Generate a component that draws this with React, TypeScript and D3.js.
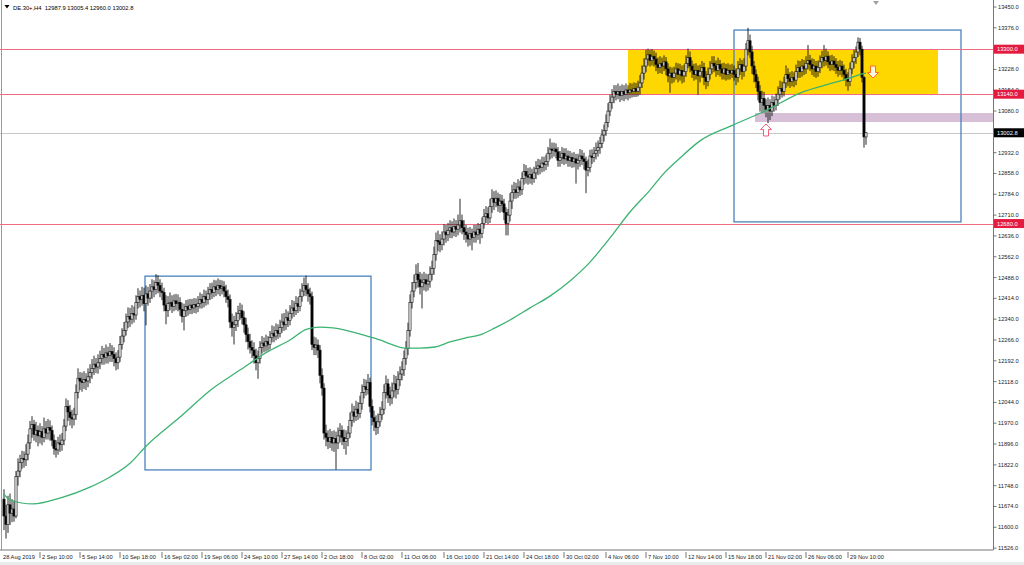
import React from 'react';
import * as d3 from 'd3';

const headerText = 'DE.30+,H4  12987.9 13005.4 12960.0 13002.8';
const firstOpen = 11700;

const closes = [
11640,11610,11680,11650,11665,11640,11780,11800,11830,11845,
11840,11860,11900,11950,11965,11930,11945,11925,11940,11920,
11950,11935,11955,11945,11910,11880,11875,11900,11895,11910,
11960,12030,12010,11990,11985,12000,12080,12130,12120,12115,
12125,12120,12135,12150,12165,12180,12170,12185,12200,12215,
12205,12220,12210,12225,12215,12200,12185,12205,12250,12280,
12300,12330,12350,12340,12360,12355,12400,12420,12410,12425,
12395,12430,12415,12440,12455,12445,12470,12460,12440,12435,
12390,12370,12395,12400,12385,12405,12395,12400,12375,12350,
12370,12385,12375,12390,12380,12392,12385,12395,12410,12400,
12420,12410,12430,12445,12435,12455,12445,12460,12450,12455,
12440,12420,12410,12330,12310,12320,12335,12360,12370,12345,
12320,12285,12260,12240,12230,12210,12185,12200,12240,12255,
12245,12260,12250,12275,12290,12280,12300,12290,12310,12330,
12320,12345,12335,12360,12380,12370,12395,12385,12420,12440,
12460,12445,12430,12420,12250,12240,12248,12230,12140,12095,
11935,11920,11905,11920,11900,11915,11900,11925,11945,11920,
11905,11915,11935,11980,12010,11995,12020,12005,12040,12080,
12100,12090,12115,12030,11990,11975,11955,11975,12000,12020,
12080,12110,12070,12060,12085,12110,12090,12125,12145,12160,
12200,12235,12300,12400,12440,12470,12500,12480,12455,12470,
12480,12465,12475,12500,12520,12570,12620,12615,12605,12625,
12650,12640,12655,12665,12650,12670,12660,12675,12690,12665,
12650,12640,12625,12645,12630,12650,12640,12660,12645,12680,
12705,12715,12700,12740,12770,12755,12770,12745,12760,12750,
12720,12680,12710,12760,12790,12800,12790,12810,12800,12840,
12865,12850,12845,12855,12840,12860,12875,12885,12880,12895,
12890,12900,12930,12945,12940,12945,12935,12905,12915,12930,
12910,12920,12905,12915,12900,12910,12895,12905,12920,12910,
12900,12870,12880,12920,12915,12930,12940,12950,12965,12995,
13010,13040,13080,13110,13130,13150,13140,13150,13135,13150,
13140,13155,13145,13155,13150,13160,13150,13165,13180,13215,
13240,13265,13280,13260,13275,13265,13245,13235,13250,13240,
13255,13230,13205,13215,13200,13215,13230,13210,13225,13205,
13220,13250,13270,13240,13225,13210,13225,13205,13220,13235,
13200,13185,13210,13230,13250,13240,13225,13245,13230,13215,
13230,13210,13225,13215,13225,13210,13200,13230,13245,13220,
13240,13300,13330,13290,13240,13210,13185,13150,13110,13125,
13100,13085,13100,13080,13110,13100,13120,13140,13160,13150,
13180,13210,13195,13185,13200,13190,13220,13235,13220,13240,
13230,13250,13260,13245,13230,13240,13220,13235,13255,13270,
13260,13275,13255,13245,13258,13245,13235,13225,13240,13225,
13210,13195,13185,13230,13255,13270,13290,13325,13300,13200,
12987.9,13002.8,
];

const highs = [
11735,11680,11712,11720,11700,11695,11800,11845,11858,11872,
11870,11895,11930,11978,11995,11982,11975,11962,11970,11960,
11990,11978,11985,11980,11962,11930,11910,11922,11930,11935,
11985,12058,12052,12035,12018,12025,12108,12165,12152,12150,
12155,12148,12165,12180,12198,12210,12202,12215,12228,12245,
12238,12250,12242,12255,12248,12240,12222,12230,12280,12308,
12330,12360,12382,12380,12390,12385,12425,12450,12442,12455,
12452,12460,12455,12465,12482,12478,12500,12496,12482,12470,
12452,12425,12422,12435,12425,12428,12430,12428,12418,12398,
12395,12408,12410,12412,12412,12415,12414,12422,12435,12430,
12445,12442,12455,12468,12470,12480,12478,12485,12480,12478,
12475,12462,12445,12428,12360,12352,12365,12388,12398,12392,
12368,12345,12310,12288,12265,12258,12235,12228,12262,12280,
12275,12285,12280,12298,12318,12315,12325,12322,12338,12360,
12362,12375,12368,12390,12408,12405,12422,12418,12448,12468,
12488,12495,12468,12452,12438,12278,12275,12268,12248,12165,
12112,11965,11945,11950,11942,11945,11940,11955,11970,11962,
11948,11945,11960,12008,12040,12032,12050,12045,12068,12108,
12128,12125,12145,12132,12055,12015,11998,12005,12028,12048,
12108,12140,12128,12100,12115,12142,12138,12155,12172,12190,
12228,12262,12328,12428,12472,12498,12535,12540,12508,12502,
12508,12502,12500,12528,12548,12598,12648,12655,12642,12652,
12678,12675,12682,12692,12688,12698,12692,12712,12768,12712,
12692,12675,12665,12668,12662,12675,12675,12682,12678,12702,
12732,12742,12738,12768,12802,12795,12798,12790,12785,12782,
12768,12738,12732,12788,12818,12828,12825,12838,12832,12862,
12892,12888,12878,12880,12875,12882,12902,12910,12908,12918,
12918,12925,12952,12982,12968,12968,12965,12952,12938,12952,
12948,12948,12940,12938,12932,12934,12928,12928,12945,12942,
12932,12918,12908,12942,12944,12952,12968,12975,12988,13015,
13032,13068,13108,13138,13158,13172,13172,13178,13170,13175,
13172,13178,13172,13180,13178,13182,13180,13188,13208,13242,
13268,13298,13302,13298,13300,13295,13288,13270,13275,13270,
13278,13272,13250,13238,13235,13238,13252,13250,13248,13242,
13245,13278,13302,13292,13260,13248,13250,13242,13245,13258,
13252,13222,13235,13258,13275,13275,13260,13270,13262,13250,
13252,13248,13250,13245,13248,13242,13232,13258,13268,13262,
13268,13322,13376,13352,13312,13258,13228,13202,13172,13152,
13148,13122,13128,13122,13135,13132,13142,13168,13188,13185,
13202,13242,13232,13218,13222,13218,13245,13260,13258,13265,
13262,13275,13315,13280,13268,13265,13258,13260,13278,13294,
13315,13302,13292,13278,13280,13275,13268,13258,13262,13258,
13245,13230,13218,13252,13282,13298,13310,13342,13340,13312,
13205,13005.4,
];

const lows = [
11590,11560,11580,11608,11618,11620,11632,11748,11778,11808,
11812,11818,11838,11878,11918,11908,11902,11888,11898,11892,
11902,11912,11912,11908,11888,11858,11848,11858,11868,11872,
11892,11942,11978,11962,11952,11962,11982,12058,12088,12082,
12092,12088,12098,12112,12128,12142,12148,12146,12162,12178,
12178,12182,12182,12188,12188,12172,12158,12162,12188,12232,
12258,12282,12308,12312,12322,12328,12338,12378,12382,12388,
12368,12318,12388,12398,12412,12418,12428,12432,12418,12408,
12368,12322,12348,12372,12362,12368,12372,12368,12352,12328,
12300,12348,12352,12358,12358,12362,12360,12365,12378,12378,
12382,12388,12392,12408,12412,12418,12422,12428,12422,12428,
12418,12398,12382,12308,12278,12250,12298,12312,12338,12322,
12292,12258,12232,12218,12202,12182,12158,12128,12182,12218,
12222,12225,12228,12232,12258,12258,12265,12270,12275,12292,
12298,12302,12312,12318,12342,12348,12355,12362,12368,12402,
12422,12422,12402,12392,12230,12212,12212,12202,12112,12068,
11912,11888,11878,11882,11872,11868,11805,11878,11902,11892,
11878,11858,11888,11918,11958,11972,11978,11982,11988,12018,
12058,12068,12072,12008,11962,11942,11928,11932,11958,11982,
12002,12058,12042,12032,12038,12062,12058,12072,12102,12122,
12138,12178,12212,12278,12378,12418,12448,12452,12428,12378,
12442,12438,12442,12452,12478,12498,12548,12582,12578,12585,
12602,12612,12618,12628,12628,12635,12632,12638,12648,12642,
12622,12612,12598,12602,12585,12612,12612,12622,12608,12628,
12662,12682,12678,12682,12718,12728,12738,12722,12718,12722,
12692,12638,12638,12688,12732,12768,12768,12772,12778,12782,
12818,12822,12818,12822,12818,12825,12838,12852,12855,12862,
12865,12870,12882,12908,12912,12918,12912,12882,12882,12892,
12888,12892,12882,12882,12878,12880,12822,12872,12882,12888,
12872,12788,12848,12862,12892,12898,12908,12918,12928,12948,
12972,12992,13022,13062,13088,13108,13118,13122,13112,13118,
13115,13122,13118,13125,13128,13130,13130,13132,13138,13162,
13192,13218,13242,13238,13242,13238,13222,13212,13215,13212,
13222,13208,13182,13145,13178,13182,13192,13182,13188,13178,
13182,13202,13232,13218,13198,13188,13192,13138,13182,13198,
13172,13158,13168,13192,13212,13218,13202,13208,13202,13192,
13192,13188,13192,13192,13198,13188,13172,13182,13208,13192,
13202,13222,13278,13268,13212,13182,13162,13118,13078,13072,
13072,13058,13037,13048,13062,13078,13082,13098,13122,13128,
13132,13162,13168,13162,13168,13165,13172,13198,13198,13202,
13208,13212,13228,13222,13208,13202,13198,13202,13215,13232,
13238,13242,13232,13222,13225,13222,13212,13202,13208,13200,
13188,13168,13152,13168,13212,13232,13248,13272,13278,13182,
12950,12960.0,
];

// Moving average: bar position -> value
const maBars = [0,3,14.5,28,43,53,63,71.5,88,104,118,131.5,143,151.5,158,164.5,181.5,188,193,200.5,208,215.5,223,230.5,238,245.5,253,263,273,283,293,303,313,323,330.5,338,348,364.5,381.5,398,414.5,423,429,431];
const maValues = [11718,11697,11683,11704,11743,11779,11828,11892,11992,12092,12159,12223,12266,12305,12312,12309,12280,12266,12252,12237,12237,12241,12259,12273,12284,12309,12337,12380,12422,12476,12543,12629,12721,12799,12863,12913,12974,13030,13084,13144,13180,13198,13212,13215];

const priceTicks = [13450,13376,13302,13228,13154,13080,13006,12932,12858,12784,12710,12636,12562,12488,12414,12340,12266,12192,12118,12044,11970,11896,11822,11748,11674,11600,11526];
const levelLines = [13300, 13140, 12680];
const currentPrice = 13002.8;

const dateLabels = ['28 Aug 2019','2 Sep 10:00','5 Sep 14:00','10 Sep 18:00','16 Sep 02:00','19 Sep 06:00','24 Sep 10:00','27 Sep 14:00','2 Oct 18:00','8 Oct 02:00','11 Oct 06:00','16 Oct 10:00','21 Oct 14:00','24 Oct 18:00','30 Oct 02:00','4 Nov 06:00','7 Nov 10:00','12 Nov 14:00','15 Nov 18:00','21 Nov 02:00','26 Nov 06:00','29 Nov 10:00'];
const dateLabelBars = [0,18,38,58,79,99,119,139,159,179,199,220,240,260,280,301,321,341,361,381,401,422];

// annotation zones in data terms [barFrom, barTo, priceLow, priceHigh]
const leftBox = [70.5, 183.5, 11804, 12493];
const rightBox = [365, 478.5, 12686, 13368];
const yellowZone = [312, 467, 13140, 13300];
const pinkZone = [375.5, 500, 13041, 13073];
const upArrow = [381, 13034];
const downArrow = [434.5, 13240];

const W = 1024, H = 565;
const plotRight = 993.5;
const plotBottom = 550;
const FONT = '"Liberation Sans", Arial, sans-serif';

export default function App() {
  const x = d3.scaleLinear().domain([0, 431]).range([4, 866]);
  const y = d3.scaleLinear().domain([11526, 13450]).range([548.1, 7]);
  const snap = (v: number) => Math.round(v) + 0.5;

  const candles = closes.map((c, i) => {
    const o = i === 0 ? firstOpen : closes[i - 1];
    const h = Math.max(highs[i], o, c);
    const l = Math.min(lows[i], o, c);
    return { i, o, h, l, c };
  });

  const maLine = d3.line<number>()
    .x((_, k) => x(maBars[k]))
    .y((v) => y(v))
    .curve(d3.curveMonotoneX)(maValues) as string;

  const rect = (z: number[], right?: number) => {
    const x0 = x(z[0]);
    const x1 = right !== undefined ? right : x(z[1]);
    return { x: x0, y: y(z[3]), width: x1 - x0, height: y(z[2]) - y(z[3]) };
  };

  const arrowUp = (cx: number, top: number) =>
    `M${cx},${top} L${cx + 5.5},${top + 5.5} L${cx + 2.5},${top + 5.5} L${cx + 2.5},${top + 12} L${cx - 2.5},${top + 12} L${cx - 2.5},${top + 5.5} L${cx - 5.5},${top + 5.5} Z`;
  const arrowDown = (cx: number, top: number) =>
    `M${cx - 2.5},${top} L${cx + 2.5},${top} L${cx + 2.5},${top + 6.5} L${cx + 5.5},${top + 6.5} L${cx},${top + 12} L${cx - 5.5},${top + 6.5} L${cx - 2.5},${top + 6.5} Z`;

  const lb = rect(leftBox);
  const rb = rect(rightBox);
  const yz = rect(yellowZone);
  const pz = rect(pinkZone, plotRight);

  return (
    <svg width={W} height={H} style={{ position: 'absolute', left: 0, top: 0, background: '#fff' }}
      fontFamily={FONT}>
      <defs>
        <clipPath id="plot"><rect x={0} y={0} width={plotRight} height={plotBottom} /></clipPath>
      </defs>
      <rect x={0} y={0} width={W} height={H} fill="#fff" />
      <rect x={0} y={562} width={W} height={3} fill="#ececec" />
      <g clipPath="url(#plot)">
        <rect {...yz} fill="#ffd700" />
        <rect {...pz} fill="#d8bfd8" />
        <line x1={0} x2={plotRight} y1={snap(y(currentPrice))} y2={snap(y(currentPrice))} stroke="#c8c8c8" strokeWidth={1} />
        <rect {...lb} fill="none" stroke="#4a82bd" strokeWidth={1.3} />
        <rect {...rb} fill="none" stroke="#4a82bd" strokeWidth={1.3} />
        {levelLines.map((v) => (
          <line key={v} x1={0} x2={plotRight} y1={snap(y(v))} y2={snap(y(v))} stroke="#f06a80" strokeWidth={1} />
        ))}
        {candles.map((d) => {
          const cx = x(d.i);
          const bull = d.c >= d.o;
          const top = y(Math.max(d.o, d.c));
          const bh = Math.max(0.8, y(Math.min(d.o, d.c)) - top);
          return (
            <g key={d.i}>
              <line x1={cx} x2={cx} y1={y(d.h)} y2={y(d.l)} stroke="#111" strokeWidth={0.9} />
              <rect x={cx - 1.1} y={top} width={2.2} height={bh}
                fill={bull ? '#e8e8e8' : '#000'} stroke="#111" strokeWidth={0.6} />
            </g>
          );
        })}
        <path d={maLine} fill="none" stroke="#3cb371" strokeWidth={1.3} />
        <path d={arrowUp(x(upArrow[0]), y(upArrow[1]))} fill="#fff" stroke="#f0506e" strokeWidth={0.9} />
        <path d={arrowDown(x(downArrow[0]), y(downArrow[1]))} fill="#fff7e0" stroke="#ff5a1e" strokeWidth={0.9} />
      </g>
      {/* frame */}
      <line x1={1.5} x2={1.5} y1={0} y2={plotBottom} stroke="#9a9a9a" strokeWidth={1} />
      <line x1={plotRight} x2={plotRight} y1={0} y2={plotBottom} stroke="#777" strokeWidth={1} />
      <line x1={0} x2={plotRight} y1={plotBottom} y2={plotBottom} stroke="#777" strokeWidth={1} />
      <path d="M873,1 L879,1 L876,5 Z" fill="#a0a0a0" />
      {/* header */}
      <path d="M4.5,5 L9.5,5 L7,8.5 Z" fill="#000" />
      <text x={13} y={10} fontSize={5.8} fill="#000" style={{ whiteSpace: 'pre' }}>{headerText}</text>
      {/* price axis */}
      {priceTicks.map((v) => (
        <g key={v}>
          <line x1={plotRight} x2={plotRight + 3} y1={y(v)} y2={y(v)} stroke="#555" strokeWidth={0.8} />
          <text x={998} y={y(v) + 2} fontSize={5.7} fill="#222">{v.toFixed(1)}</text>
        </g>
      ))}
      {levelLines.map((v) => (
        <g key={'lb' + v}>
          <rect x={994} y={y(v) - 4.5} width={30} height={9} fill="#e41b3f" />
          <text x={997} y={y(v) + 2} fontSize={5.7} fill="#fff">{v.toFixed(1)}</text>
        </g>
      ))}
      <rect x={994} y={y(currentPrice) - 4.5} width={30} height={9} fill="#000" />
      <text x={997} y={y(currentPrice) + 2} fontSize={5.7} fill="#fff">{currentPrice.toFixed(1)}</text>
      {/* time axis */}
      {dateLabels.map((t, k) => {
        const px = x(dateLabelBars[k]);
        return (
          <g key={t}>
            {k > 0 && <line x1={px} x2={px} y1={552} y2={558} stroke="#555" strokeWidth={0.8} />}
            <text x={k === 0 ? 3 : px + 2} y={558.5} fontSize={5.7} fill="#222">{t}</text>
          </g>
        );
      })}
    </svg>
  );
}
